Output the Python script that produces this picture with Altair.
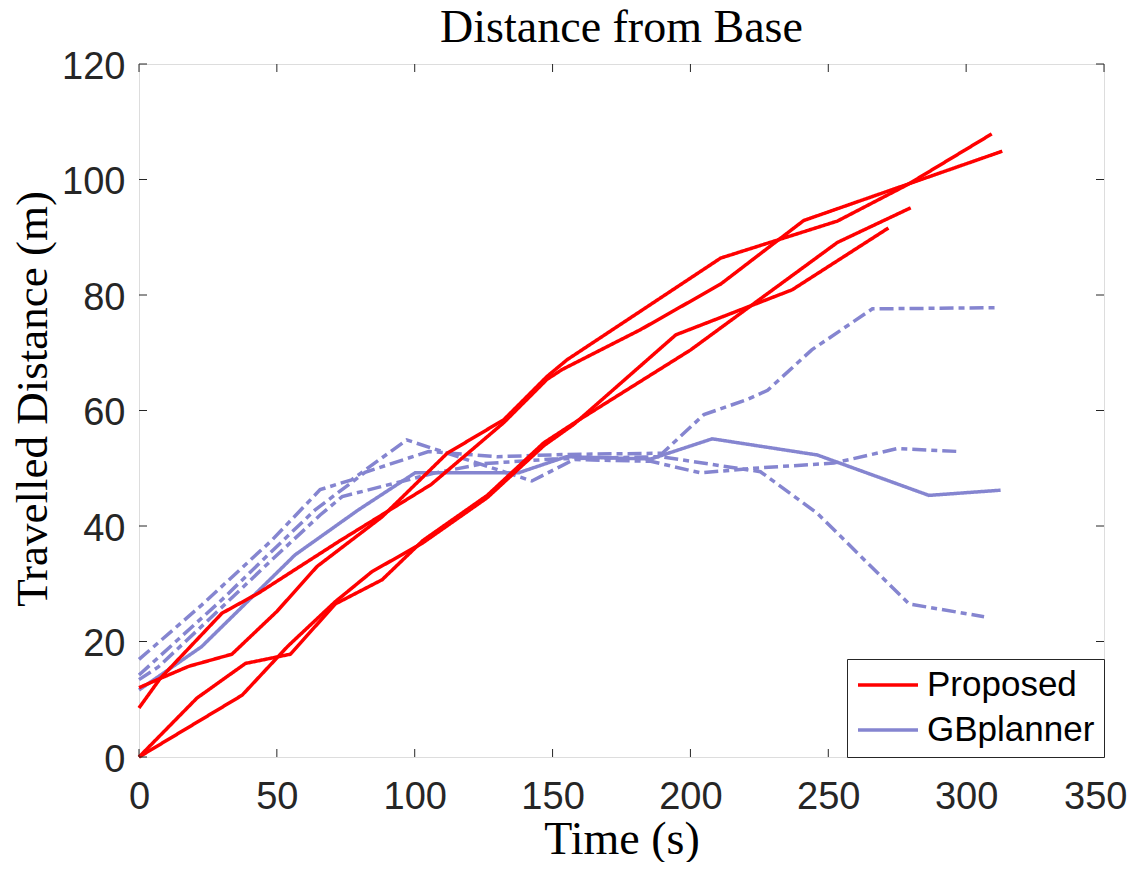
import altair as alt
import pandas as pd

# ---------------- data ----------------
# Proposed runs
prop1_t = [0, 7.7, 18, 33.7, 50, 64.6, 88.2, 111.8, 132.3, 148, 155.3, 181.9, 211, 253.3, 278.7, 309.3]
prop1_v = [12, 13.6, 15.7, 17.8, 25.2, 33.0, 41.6, 52.6, 58.4, 65.9, 68.8, 77.2, 86.4, 92.8, 99.1, 107.9]

prop2_t = [0, 7.7, 30.1, 43.4, 72.4, 106, 132.3, 148, 153.5, 181.9, 211, 241.1, 313.1]
prop2_v = [8.5, 13.6, 24.9, 28.4, 37.3, 47.2, 57.9, 65.4, 67.1, 74.0, 81.9, 92.9, 104.9]

prop3_t = [0, 21, 38.6, 54.9, 71.2, 88.2, 103, 126.3, 146.8, 157.7, 200.1, 253.3, 279.9]
prop3_v = [0, 10.2, 16.2, 17.8, 26.5, 30.7, 37.5, 45.3, 54.4, 57.8, 70.5, 89.1, 95.1]

prop4_t = [0, 37.4, 54, 71.2, 84.5, 103, 126.3, 146.8, 157.7, 194.7, 236.9, 271.8]
prop4_v = [0, 10.7, 19.2, 26.9, 32.1, 37.1, 44.9, 53.9, 57.6, 73.1, 80.9, 91.6]

# GBplanner runs
gb1_t = [0, 22.7, 56.6, 79.6, 100.1, 137.6, 155, 185.6, 207.9, 246, 286.5, 312.5]
gb1_v = [11.6, 19.1, 35.0, 42.8, 49.2, 49.2, 52.0, 51.6, 55.1, 52.3, 45.3, 46.2]

gb2_t = [0, 30, 48.1, 63.9, 82, 105, 130, 155, 189.8, 204.9, 220.6, 228, 244, 266, 310.7]
gb2_v = [14.2, 27.2, 35.6, 42.8, 49.3, 52.9, 52.0, 52.4, 52.6, 59.3, 61.9, 63.5, 70.5, 77.6, 77.8]

gb3_t = [0, 22.7, 48.1, 65.7, 77.1, 97.1, 142.5, 157.7, 185.6, 203.7, 223, 252, 275, 297.4]
gb3_v = [16.9, 26.3, 37.5, 46.3, 48.0, 54.9, 47.8, 51.5, 51.2, 49.2, 50.0, 50.9, 53.4, 52.9]

gb4_t = [0, 7, 24, 48.1, 65.7, 73.7, 107.5, 125, 150, 189.2, 225.4, 246, 279.3, 306.5]
gb4_v = [13.4, 15.6, 23.2, 34.1, 41.9, 45.1, 49.2, 50.8, 51.6, 52.0, 49.4, 42.2, 26.5, 24.3]

methods = ["Proposed", "GBplanner"]
x_ticks = [0, 50, 100, 150, 200, 250, 300, 350]
y_ticks = [0, 20, 40, 60, 80, 100, 120]

runs = [
    ("p1", "Proposed", "solid", prop1_t, prop1_v),
    ("p2", "Proposed", "solid", prop2_t, prop2_v),
    ("p3", "Proposed", "solid", prop3_t, prop3_v),
    ("p4", "Proposed", "solid", prop4_t, prop4_v),
    ("g1", "GBplanner", "solid", gb1_t, gb1_v),
    ("g2", "GBplanner", "dashdot", gb2_t, gb2_v),
    ("g3", "GBplanner", "dashdot", gb3_t, gb3_v),
    ("g4", "GBplanner", "dashdot", gb4_t, gb4_v),
]
rows = []
for run, method, style, ts, vs in runs:
    for i, (t, v) in enumerate(zip(ts, vs)):
        rows.append({"run": run, "method": method, "style": style, "t": t, "v": v, "i": i})
df = pd.DataFrame(rows)
df_red = df[df.method == "Proposed"]
df_blue = df[df.method == "GBplanner"]
xt_df = pd.DataFrame({"t": x_ticks})
yt_df = pd.DataFrame({"v": y_ticks})

# ---------------- chart ----------------
W, H = 965, 693
RED, BLUE = "#ff0000", "#8585d0"
AX = "#262626"
LAST = x_ticks[-1]

x_scale = alt.Scale(domain=[0, 350], nice=False, zero=False)
y_scale = alt.Scale(domain=[0, 120], nice=False, zero=False)
color_scale = alt.Scale(domain=methods, range=[RED, BLUE])
dash_scale = alt.Scale(domain=["solid", "dashdot"], range=[[1, 0], [14, 5, 6, 5]])

x_axis = alt.Axis(values=x_ticks, title="Time (s)", grid=False, domain=False, ticks=False, tickSize=0,
                  labelFont="Liberation Sans", labelFontSize=38, labelColor=AX, labelPadding=21,
                  labelAlign={"condition": {"test": f"datum.value == {LAST}", "value": "right"}, "value": "center"},
                  labelOffset={"condition": {"test": f"datum.value == {LAST}", "value": 23}, "value": 0},
                  labelFlush=False, labelOverlap=False, labelBound=False,
                  titleFont="Liberation Serif", titleFontSize=46, titleFontWeight="normal", titleColor="black",
                  titleBaseline="alphabetic", titleY=96, titleX=W / 2, titleAlign="center")
y_axis = alt.Axis(values=y_ticks, title="Travelled Distance (m)", grid=False, domain=False, ticks=False, tickSize=0,
                  labelFont="Liberation Sans", labelFontSize=38, labelColor=AX, labelPadding=14, labelOffset=3,
                  labelFlush=False, labelOverlap=False, labelBound=False,
                  titleFont="Liberation Serif", titleFontSize=45, titleFontWeight="normal", titleColor="black",
                  titleAngle=270, titleX=-107, titleY=H / 2 - 12, titleAlign="center", titleBaseline="middle")

legend = alt.Legend(title=None, orient="bottom-right", offset=0, padding=9, symbolType="stroke",
                    symbolSize=3600, symbolStrokeWidth=3.5, clipHeight=34, rowPadding=10,
                    labelFont="Liberation Sans", labelFontSize=35, labelColor="black", labelOffset=7,
                    labelLimit=400, strokeColor=AX, fillColor="white")

X = alt.X("t:Q", scale=x_scale, axis=x_axis)
Y = alt.Y("v:Q", scale=y_scale, axis=y_axis)


def lines(data):
    return alt.Chart(data).mark_line(strokeWidth=3.5, strokeCap="butt").encode(
        x=X,
        y=Y,
        color=alt.Color("method:N", scale=color_scale, legend=legend),
        strokeDash=alt.StrokeDash("style:N", scale=dash_scale, legend=None),
        detail="run:N",
        order="i:Q",
    )


blue = lines(df_blue)
red = lines(df_red)

tick_style = dict(color=AX, strokeWidth=1)
xt_bottom = alt.Chart(xt_df).mark_rule(**tick_style).encode(x=X, y=alt.value(H), y2=alt.value(H - 8))
xt_top = alt.Chart(xt_df).mark_rule(**tick_style).encode(x=X, y=alt.value(0), y2=alt.value(8))
yt_left = alt.Chart(yt_df).mark_rule(**tick_style).encode(y=Y, x=alt.value(0), x2=alt.value(8))
yt_right = alt.Chart(yt_df).mark_rule(**tick_style).encode(y=Y, x=alt.value(W), x2=alt.value(W - 8))

chart = alt.layer(blue, red, xt_bottom, xt_top, yt_left, yt_right).properties(
    width=W, height=H,
    padding={"left": 131, "top": 56, "right": 24, "bottom": 105},
    autosize=alt.AutoSizeParams(type="none"),
    title=alt.TitleParams("Distance from Base", font="Liberation Serif", fontSize=46,
                          fontWeight="normal", color="black", offset=13, dy=17, anchor="middle",
                          frame="group"),
).configure_view(stroke=AX, strokeWidth=1).configure(background="white")

chart.save("out.html", embed_options={"renderer": "svg", "actions": False})
